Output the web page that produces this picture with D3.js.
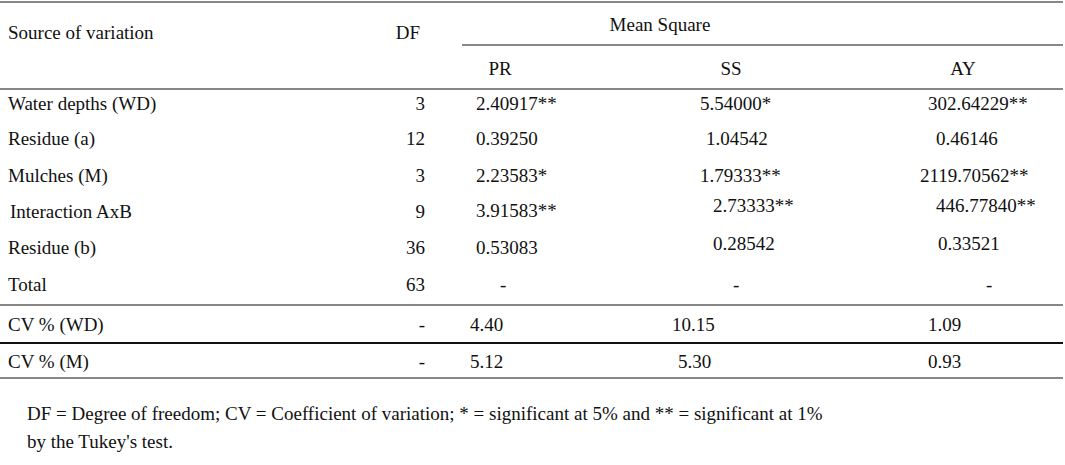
<!DOCTYPE html>
<html><head><meta charset="utf-8">
<script src="https://cdn.jsdelivr.net/npm/d3@7"></script>
<style>body{margin:0;background:#fff}text{font-family:"Liberation Serif",Tinos,"Times New Roman",Times,serif;font-size:19px;fill:#111}</style>
</head><body><svg id="c" width="1065" height="465"></svg>
<script>
const sources = ["Water depths (WD)", "Residue (a)", "Mulches (M)", "Interaction AxB", "Residue (b)", "Total", "CV % (WD)", "CV % (M)"];
const df = ["3", "12", "3", "9", "36", "63", "-", "-"];
const pr = ["2.40917**", "0.39250", "2.23583*", "3.91583**", "0.53083", "-", "4.40", "5.12"];
const ss = ["5.54000*", "1.04542", "1.79333**", "2.73333**", "0.28542", "-", "10.15", "5.30"];
const ay = ["302.64229**", "0.46146", "2119.70562**", "446.77840**", "0.33521", "-", "1.09", "0.93"];
const notes = ["DF = Degree of freedom; CV = Coefficient of variation; * = significant at 5% and ** = significant at 1%",
  "by the Tukey's test."];

// small per-cell nudges to mimic the original's loose alignment
const nudgeSS = [0, 6, 0, 13, 13, 33, -28, -22];
const nudgeAY = [0, 8, -8, 8, 10, 58, 0, 0];
const nudgePR = [0, 0, 0, 0, 0, 24, -6, -6];
const rowDy = [0, 0, 0, -6, -4, 0, 0, 0];
const rowY = [103, 138, 175, 211, 247, 284, 324, 361];

const svg = d3.select("#c");

const line = (x1, x2, yy, w) => svg.append("line").attr("x1", x1).attr("x2", x2)
  .attr("y1", yy).attr("y2", yy).attr("stroke", "#111").attr("stroke-width", w || 1.2);
line(0, 1063, 2); line(462, 1063, 45); line(0, 1063, 89);
line(0, 1063, 305); line(0, 1063, 343, 1.8); line(0, 1063, 378);

const t = (x, yy, s, anchor) => svg.append("text").attr("x", x).attr("y", yy)
  .attr("dy", "0.35em").attr("text-anchor", anchor || "start").text(s);

t(8, 32, "Source of variation"); t(408, 32, "DF", "middle");
t(660, 24, "Mean Square", "middle");
t(500, 68, "PR", "middle"); t(731, 68, "SS", "middle"); t(963, 68, "AY", "middle");

sources.forEach((s, i) => {
  const yy = rowY[i];
  t(i === 3 ? 10 : 8, yy, s);
  t(425, yy, df[i], "end");
  t(476 + nudgePR[i], yy + (i === 3 ? -1 : 0), pr[i]);
  t(700 + nudgeSS[i], yy + rowDy[i], ss[i]);
  t(928 + nudgeAY[i], yy + rowDy[i], ay[i]);
});

t(27, 413, notes[0]); t(27, 441, notes[1]);
</script></body></html>
